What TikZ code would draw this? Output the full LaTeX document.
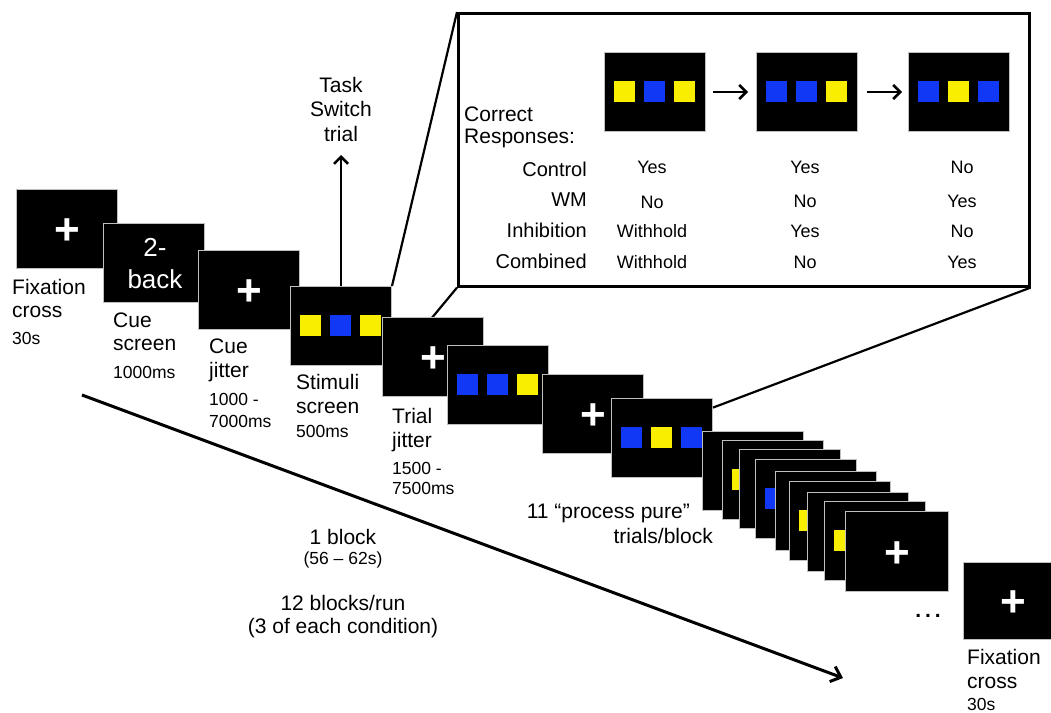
\documentclass[tikz,border=0pt]{standalone}
\usepackage{fontspec}
\setmainfont{Liberation Sans}
\usetikzlibrary{arrows.meta,calc}
\definecolor{yel}{RGB}{250,238,0}
\definecolor{blu}{RGB}{16,56,245}
\newcommand\labfont{\fontsize{21}{25}\selectfont}
\newcommand\smlfont{\fontsize{17.5}{21}\selectfont}
\newcommand\sqs[4]{%
  \fill[#2] ($(#1.north west)+(10,29)$) rectangle ++(21,21);
  \fill[#3] ($(#1.north west)+(40,29)$) rectangle ++(21,21);
  \fill[#4] ($(#1.north west)+(70,29)$) rectangle ++(21,21);}
\begin{document}
\begin{tikzpicture}[x=1pt,y=-1pt,
  screen/.style={fill=black, draw=gray!50, line width=1pt, minimum width=101pt,
    minimum height=79pt, inner sep=0pt, anchor=north west},
  plus/.style={text=white, font=\fontsize{44}{44}\selectfont\bfseries, inner sep=0pt, yshift=-3pt},
  lab/.style={font=\labfont, inner sep=0pt, anchor=base west},
  sml/.style={font=\smlfont, inner sep=0pt, anchor=base west},
  ctr/.style={font=\labfont, inner sep=0pt, anchor=base},
  ctrs/.style={font=\smlfont, inner sep=0pt, anchor=base},
  rowlab/.style={font=\fontsize{20}{24}\selectfont, inner sep=0pt, anchor=base east},
  val/.style={font=\fontsize{18}{22}\selectfont, inner sep=0pt, anchor=base},
  cuetxt/.style={text=white, font=\fontsize{26}{30}\selectfont, inner sep=0pt, anchor=base},
  callout/.style={line width=2.2pt},
  barb/.style={line width=2.6pt, -{Straight Barb[length=7pt,width=14pt]}}
]
\useasboundingbox (0,0) rectangle (1051,712);

% timeline arrow
\coordinate (t0) at (82,395);
\coordinate (t1) at (843,678);
\draw[line width=3pt, -{Straight Barb[length=9pt,width=16pt]}] (t0) -- (t1);

% inset box
\node[draw, line width=2.6pt, fill=white, minimum width=571pt, minimum height=273pt,
  inner sep=0pt, anchor=north west] (box) at (457,12) {};
\node[screen] (i1) at (604,52) {}; \sqs{i1}{yel}{blu}{yel}
\node[screen] (i2) at (756,52) {}; \sqs{i2}{blu}{blu}{yel}
\node[screen] (i3) at (908,52) {}; \sqs{i3}{blu}{yel}{blu}
\draw[barb, shorten <=7pt, shorten >=8pt] (i1.east) -- (i2.west);
\draw[barb, shorten <=9pt, shorten >=6pt] (i2.east) -- (i3.west);
\node[lab] (corr1) at (464,121) {Correct};
\node[lab] (corr2) at (464,143) {Responses:};
\node[rowlab] (rc) at (587,176) {Control};
\node[rowlab] (rw) at (587,206) {WM};
\node[rowlab] (ri) at (587,237) {Inhibition};
\node[rowlab] (rb) at (587,268) {Combined};
\node[val] (v11) at (652,173) {Yes};
\node[val] (v12) at (652,208) {No};
\node[val] (v13) at (652,237) {Withhold};
\node[val] (v14) at (652,268) {Withhold};
\node[val] (v21) at (805,173) {Yes};
\node[val] (v22) at (805,207) {No};
\node[val] (v23) at (805,237) {Yes};
\node[val] (v24) at (805,268) {No};
\node[val] (v31) at (962,173) {No};
\node[val] (v32) at (962,207) {Yes};
\node[val] (v33) at (962,237) {No};
\node[val] (v34) at (962,268) {Yes};

% main sequence
\node[screen] (s1) at (16,189) {};
\node[plus] (p1) at (s1.center) {+};
\node[screen] (s2) at (103,223) {};
\node[cuetxt] (cueA) at (155,256) {2-};
\node[cuetxt] (cueB) at (155,288) {back};
\node[screen] (s3) at (198,250) {};
\node[plus] (p3) at (s3.center) {+};
\node[screen] (s4) at (290,286) {}; \sqs{s4}{yel}{blu}{yel}
\draw[callout] (s4.north east) -- (box.north west);
\draw[callout] (s4.south east) -- (box.south west);
\coordinate (tstip) at (341,155);
\draw[barb] (s4.north) -- (s4.north |- tstip);
\node[ctr] (task1) at (341,92) {Task};
\node[ctr] (task2) at (341,116) {Switch};
\node[ctr] (task3) at (341,141) {trial};
\node[screen] (s5) at (382,317) {};
\node[plus] (p5) at (s5.center) {+};
\node[screen] (s6) at (447,345) {}; \sqs{s6}{blu}{blu}{yel}
\node[screen] (s7) at (542,374) {};
\node[plus] (p7) at (s7.center) {+};
\node[screen] (s8) at (611,398) {}; \sqs{s8}{blu}{yel}{blu}
\draw[callout] ($(s8.north east)!0.12!(s8.south east)$) -- (box.south east);

% stacked trials
\node[screen] (k1) at (702,431) {}; \node[plus] at (k1.center) {+};
\node[screen] (k2) at (722,440) {}; \sqs{k2}{yel}{blu}{yel}
\node[screen] (k3) at (739,449) {}; \node[plus] at (k3.center) {+};
\node[screen] (k4) at (755,459) {}; \sqs{k4}{blu}{yel}{blu}
\node[screen] (k5) at (775,471) {}; \node[plus] at (k5.center) {+};
\node[screen] (k6) at (789,481) {}; \sqs{k6}{yel}{yel}{blu}
\node[screen] (k7) at (807,492) {}; \node[plus] at (k7.center) {+};
\node[screen] (k8) at (824,501) {}; \sqs{k8}{yel}{blu}{blu}
\node[screen, minimum width=103pt, minimum height=80pt] (k9) at (845,511) {};
\node[plus] (p9) at (k9.center) {+};

% final fixation
\node[screen, minimum width=90pt, minimum height=77pt] (s10) at (963,562) {};
\node[plus] (p10) at ($(s10.north west)+(50,38.5)$) {+};
\node[font=\fontsize{21}{25}\selectfont\bfseries, inner sep=0pt] (dots) at (928,616) {.\kern4pt.\kern4pt.};

% labels
\node[lab] at (12,294) {Fixation};
\node[lab] at (12,317.5) {cross};
\node[sml] at (12,344) {30s};
\node[lab] at (113,327) {Cue};
\node[lab] at (113,350) {screen};
\node[sml] at (113,378) {1000ms};
\node[lab] at (209,353) {Cue};
\node[lab] at (209,377) {jitter};
\node[sml] at (209,405) {1000 -};
\node[sml] at (209,427) {7000ms};
\node[lab] at (296,389) {Stimuli};
\node[lab] at (296,413) {screen};
\node[sml] at (296,437) {500ms};
\node[lab] at (392,423) {Trial};
\node[lab] at (392,447) {jitter};
\node[sml] at (392,474) {1500 -};
\node[sml] at (392,494) {7500ms};
\node[font=\labfont, inner sep=0pt, anchor=base east] at (690,518) {11 “process pure”};
\node[font=\labfont, inner sep=0pt, anchor=base east] at (713,543) {trials/block};
\node[ctr] at (343,544) {1 block};
\node[ctrs] at (343,564) {(56 – 62s)};
\node[ctr] at (343,610) {12 blocks/run};
\node[ctr] at (343,633) {(3 of each condition)};
\node[lab] at (967,664) {Fixation};
\node[lab] at (967,688) {cross};
\node[sml] at (967,710) {30s};
\end{tikzpicture}
\end{document}
